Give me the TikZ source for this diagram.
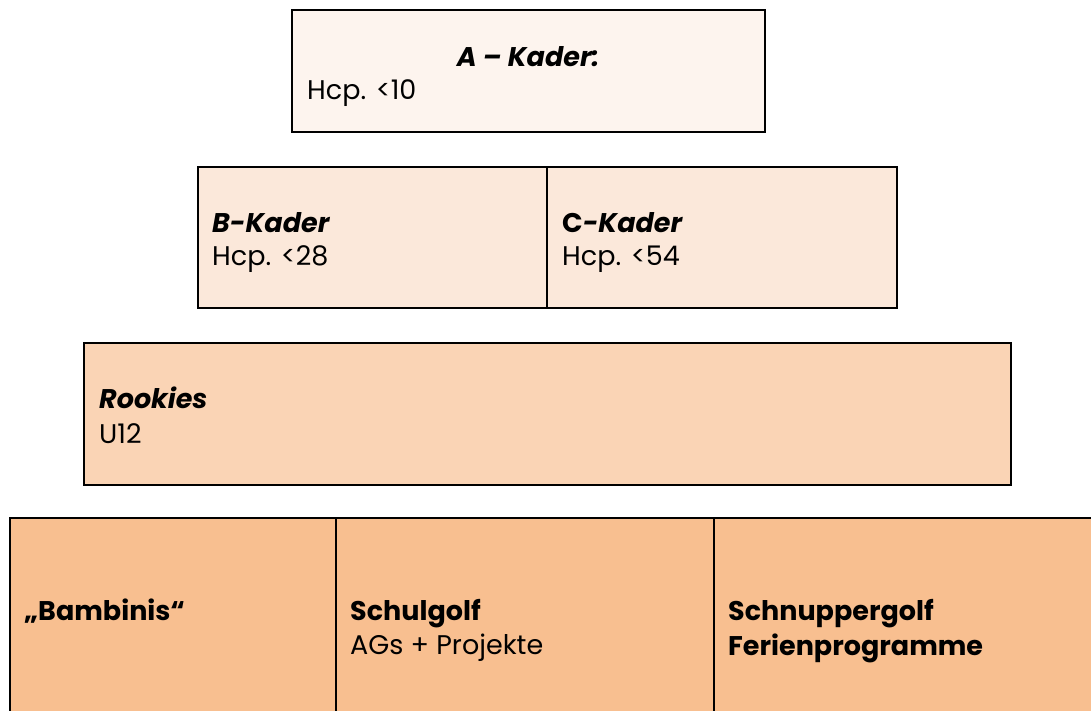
\documentclass[tikz,border=0pt]{standalone}
\usepackage{fontspec}
\setmainfont{Poppins}
\definecolor{fillA}{HTML}{FDF4EE}
\definecolor{fillB}{HTML}{FBE8DA}
\definecolor{fillR}{HTML}{FAD4B5}
\definecolor{fillD}{HTML}{F8BF90}
\tikzset{
  box/.style={draw=black, line width=2.2pt},
  txt/.style={anchor=base west, inner sep=0pt, font=\fontsize{27}{31}\selectfont, text=black},
  ctxt/.style={anchor=base, inner sep=0pt, font=\fontsize{27}{31}\selectfont, text=black},
}
\begin{document}
\begin{tikzpicture}[x=1pt,y=-1pt]
\useasboundingbox (0,0) rectangle (1091,711);
\clip (0,0) rectangle (1091,711);
% boxes
\filldraw[box, fill=fillA] (292,10) rectangle (765,132);
\filldraw[box, fill=fillB] (198,167) rectangle (547,308);
\filldraw[box, fill=fillB] (547,167) rectangle (897,308);
\filldraw[box, fill=fillR] (84,343) rectangle (1011,485);
\filldraw[box, fill=fillD] (10,518) rectangle (336,720);
\filldraw[box, fill=fillD] (336,518) rectangle (714,720);
\filldraw[box, fill=fillD] (714,518) rectangle (1100,720);
% texts
\node[ctxt] (ta) at (528,67) {\textbf{\textit{A – Kader:}}};
\node[txt] (ha) at (307,100) {Hcp. <10};
\node[txt] (tb) at (212,233) {\textbf{\textit{B-Kader}}};
\node[txt] (hb) at (212,265) {Hcp. <28};
\node[txt] (tc) at (562,233) {\textbf{C\textit{-Kader}}};
\node[txt] (hc) at (562,265) {Hcp. <54};
\node[txt] (tr) at (99,408) {\textbf{\textit{Rookies}}};
\node[txt] (hr) at (99,443) {U12};
\node[txt] (tbam) at (24,620) {\textbf{„Bambinis“}};
\node[txt] (ts) at (350,620) {\textbf{Schulgolf}};
\node[txt] (hs) at (350,654) {AGs + Projekte};
\node[txt] (tsn) at (728,620) {\textbf{Schnuppergolf}};
\node[txt] (tf) at (728,655) {\textbf{Ferienprogramme}};
\end{tikzpicture}
\end{document}
